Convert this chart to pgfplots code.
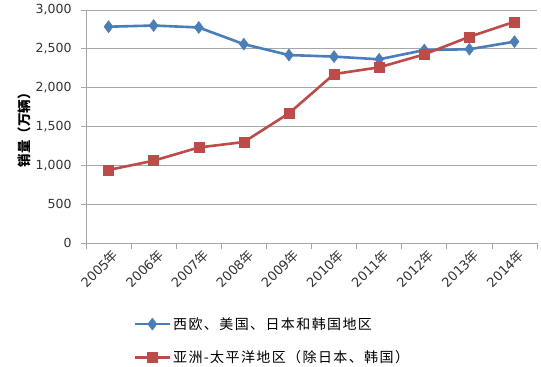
\documentclass[border=0pt]{standalone}
\usepackage{fontspec}
\setmainfont{DejaVu Sans}
\newfontfamily\cjk{Noto Sans CJK SC}
\usepackage{pgfplots}
\pgfplotsset{compat=1.18}
\definecolor{eblue}{HTML}{4A7EBB}
\definecolor{ered}{HTML}{BE4B48}
\definecolor{gridc}{HTML}{A6A6A6}
\begin{document}
\begin{tikzpicture}[x=1pt,y=1pt]
\begin{axis}[
  scale only axis,
  width=451pt, height=233pt,
  at={(0,0)}, anchor=south west,
  xmin=-0.5, xmax=9.5,
  ymin=0, ymax=3000,
  axis lines*=left,
  axis line style={gridc, line width=0.8pt},
  xtick={0,...,9},
  xticklabels={2005{\cjk 年},2006{\cjk 年},2007{\cjk 年},2008{\cjk 年},2009{\cjk 年},2010{\cjk 年},2011{\cjk 年},2012{\cjk 年},2013{\cjk 年},2014{\cjk 年}},
  x tick label style={rotate=45, anchor=north east, font=\fontsize{13}{13}\selectfont, text=black!80, inner sep=1pt, xshift=3pt, yshift=-1pt},
  major x tick style={draw=none},
  minor xtick={-0.5,0.5,...,9.5},
  minor x tick style={gridc, line width=0.8pt},
  minor tick length=6pt,
  ytick={0,500,...,3000},
  yticklabels={0,500,{1,000},{1,500},{2,000},{2,500},{3,000}},
  y tick label style={font=\fontsize{12.5}{12.5}\selectfont, text=black!80, xshift=-6pt},
  ytick style={gridc, line width=0.8pt},
  tick align=outside,
  major tick length=5pt,
  ymajorgrids,
  grid style={gridc, line width=0.8pt},
  ylabel={\cjk\bfseries 销量（万辆）},
  ylabel style={font=\fontsize{13.5}{13.5}\selectfont, yshift=-2pt},
  legend style={at={(0.105,-0.31)}, anchor=north west, draw=none, fill=none,
    font=\fontsize{14}{14}\selectfont\cjk\addfontfeature{LetterSpace=10},
    row sep=16pt, inner sep=0pt, cells={anchor=west}},
  legend image code/.code={\draw[mark repeat=2, mark phase=2, #1] plot coordinates {(0pt,0pt) (17.5pt,0pt) (35pt,0pt)};},
  legend cell align=left,
]
\addplot[eblue, line width=2.6pt, mark=diamond*, mark size=6pt, mark options={fill=eblue, draw=eblue, line width=0.5pt}]
  coordinates {(0,2785) (1,2800) (2,2775) (3,2560) (4,2420) (5,2400) (6,2365) (7,2484) (8,2495) (9,2592)};
\addlegendentry{西欧、美国、日本和韩国地区}
\addplot[ered, line width=2.6pt, mark=square*, mark size=5pt, mark options={fill=ered, draw=ered, line width=0.5pt}]
  coordinates {(0,940) (1,1060) (2,1230) (3,1300) (4,1670) (5,2175) (6,2262) (7,2428) (8,2655) (9,2848)};
\addlegendentry{亚洲-太平洋地区（除日本、韩国）}
\end{axis}
\path[use as bounding box] (-86pt,-122pt) rectangle (455pt,243pt);
\end{tikzpicture}
\end{document}
